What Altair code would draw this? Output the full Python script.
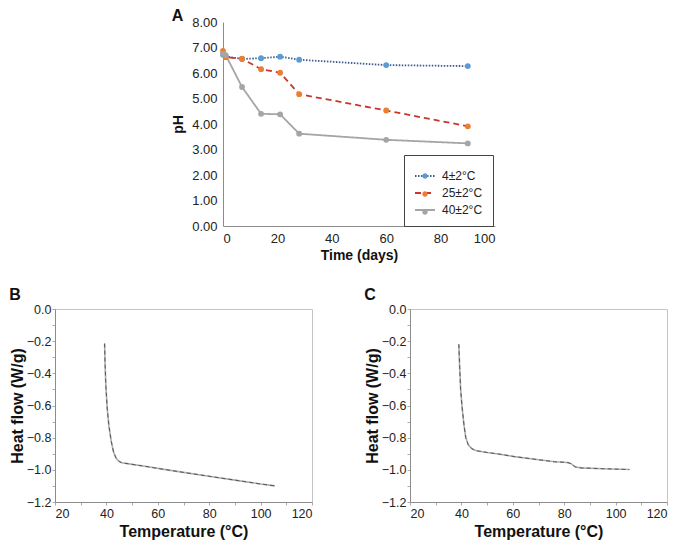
import altair as alt
import pandas as pd

FONT = "Liberation Sans"

# ---------------- Panel A data ----------------
days = [0, 1, 7, 14, 21, 28, 60, 90]
ph_4c = [6.72, 6.65, 6.55, 6.58, 6.64, 6.52, 6.31, 6.27]
ph_25c = [6.87, 6.62, 6.56, 6.15, 6.01, 5.17, 4.53, 3.91]
ph_40c = [6.75, 6.70, 5.45, 4.40, 4.38, 3.62, 3.38, 3.24]
series_labels = ["4±2°C", "25±2°C", "40±2°C"]
line_colors = ["#3d5a8a", "#c8372d", "#a5a5a5"]
point_colors = ["#5b9bd5", "#ed7d31", "#a5a5a5"]
line_dashes = [[1.5, 1.5], [6, 4], [1, 0]]
a_x_ticks = [0, 20, 40, 60, 80, 100]
a_y_ticks = [0, 1, 2, 3, 4, 5, 6, 7, 8]

# ---------------- Panel B / C data ----------------
temp_b = [39.3, 39.5, 39.8, 40.3, 41.0, 41.9, 42.8, 43.8, 45.0, 46.0, 50.0,
          55.0, 61.2, 70.0, 79.2, 90.0, 100.0, 105.6]
hf_b = [-0.215, -0.35, -0.48, -0.616, -0.73, -0.824, -0.89, -0.929, -0.948,
        -0.956, -0.966, -0.978, -0.994, -1.016, -1.038, -1.064, -1.088, -1.100]
temp_c = [39.0, 39.3, 39.7, 40.3, 41.0, 41.7, 42.7, 43.9, 45.0, 46.5, 50.0,
          55.0, 60.7, 70.0, 76.3, 80.0, 81.4, 82.7, 83.5, 84.3, 86.6, 95.0, 105.4]
hf_c = [-0.219, -0.35, -0.50, -0.616, -0.72, -0.80, -0.845, -0.866, -0.877,
        -0.883, -0.892, -0.903, -0.918, -0.937, -0.950, -0.953, -0.955, -0.962,
        -0.972, -0.982, -0.988, -0.993, -0.998]
dsc_x_ticks = [20, 30, 40, 50, 60, 70, 80, 90, 100, 110, 120]
dsc_y_ticks = [-1.2, -1.1, -1.0, -0.9, -0.8, -0.7, -0.6, -0.5, -0.4, -0.3,
               -0.2, -0.1, 0.0]

# ---------------- build panel A ----------------
rows = []
for idx, (lab, vals) in enumerate(zip(series_labels, [ph_4c, ph_25c, ph_40c])):
    for d, v in zip(days, vals):
        rows.append({"day": d, "ph": v, "series": lab, "series_pt": lab, "idx": idx})
df_a = pd.DataFrame(rows)

x_a = alt.X("day:Q", scale=alt.Scale(domain=[0, 100], nice=False),
            axis=alt.Axis(values=a_x_ticks, title="Time (days)", ticks=False,
                          labelPadding=6, titlePadding=3, labelFontSize=13,
                          titleFontSize=14, domainColor="#8c8c8c"))
y_a = alt.Y("ph:Q", scale=alt.Scale(domain=[0, 8], nice=False),
            axis=alt.Axis(values=a_y_ticks, format=".2f", title="pH", ticks=False,
                          labelPadding=6, titlePadding=6, labelFontSize=13,
                          titleFontSize=14, domainColor="#8c8c8c"))

legend_common = dict(title=None, orient="none", legendX=181, legendY=133,
                     symbolSize=400, symbolStrokeWidth=1.8, labelFontSize=12,
                     labelFont=FONT, rowPadding=-2, padding=10, labelOffset=6)

line_legend = alt.Legend(symbolType="M-1,0H1", strokeColor="#444",
                         labelColor="#222", **legend_common)
pt_legend = alt.Legend(
    symbolType="M-0.27,0a0.27,0.27 0 1,0 0.54,0a0.27,0.27 0 1,0 -0.54,0",
    labelExpr="''", symbolStrokeColor="transparent", **legend_common)

sort_a = alt.EncodingSortField("idx", op="min")
sort_b = alt.EncodingSortField("idx", op="max")

lines_a = alt.Chart(df_a).mark_line(strokeWidth=1.8).encode(
    x=x_a, y=y_a,
    stroke=alt.Stroke("series:N", sort=sort_a,
                      scale=alt.Scale(range=line_colors), legend=line_legend),
    strokeDash=alt.StrokeDash("series:N", sort=sort_a,
                              scale=alt.Scale(range=line_dashes), legend=line_legend),
    order="day:Q",
)
points_a = alt.Chart(df_a).mark_point(filled=True, size=34, opacity=1).encode(
    x=x_a, y=y_a,
    fill=alt.Fill("series_pt:N", sort=sort_b,
                  scale=alt.Scale(range=point_colors), legend=pt_legend),
)
panel_a = alt.layer(lines_a, points_a).properties(
    width=272, height=204,
    title=alt.TitleParams("A", anchor="start", frame="bounds", fontSize=16,
                          fontWeight="bold", font=FONT, offset=-8, color="#111"),
    view=alt.ViewBackground(stroke=None),
)

spacer = alt.Chart(pd.DataFrame({"v": [0]})).mark_text(text="").encode(
    x=alt.value(0), y=alt.value(0)
).properties(width=102, height=10, view=alt.ViewBackground(stroke=None))

top_row = alt.hconcat(spacer, panel_a, spacing=14).resolve_scale(
    stroke="independent", strokeDash="independent", fill="independent"
).resolve_legend(stroke="independent", strokeDash="independent", fill="independent")


# ---------------- build panels B and C ----------------
def dsc_panel(temps, hfs, letter, width):
    df = pd.DataFrame({"temp": temps, "hf": hfs})
    x = alt.X("temp:Q", scale=alt.Scale(domain=[20, 120], nice=False),
              axis=alt.Axis(values=dsc_x_ticks, title="Temperature (°C)",
                            labelExpr="datum.value % 20 == 0 ? datum.value : ''",
                            tickSize=3, tickColor="#aaa", labelPadding=2,
                            titlePadding=4, labelFontSize=12.5, titleFontSize=16,
                            domainColor="#8c8c8c"))
    y = alt.Y("hf:Q", scale=alt.Scale(domain=[-1.2, 0], nice=False),
              axis=alt.Axis(values=dsc_y_ticks, title="Heat flow (W/g)",
                            labelExpr="round(datum.value*10) % 2 == 0 ? replace(format(datum.value, '.1f'), '-', '−') : ''",
                            tickSize=3, tickColor="#aaa", labelPadding=1,
                            titlePadding=1, labelFontSize=12.5, titleFontSize=16,
                            domainColor="#8c8c8c"))
    base = alt.Chart(df).encode(x=x, y=y, order="temp:Q")
    light = base.mark_line(color="#b0b0b0", strokeWidth=1.6)
    dark = base.mark_line(color="#555555", strokeWidth=1.0, strokeDash=[4, 3])
    return alt.layer(light, dark).properties(
        width=width, height=193,
        title=alt.TitleParams(letter, anchor="start", frame="bounds", fontSize=16,
                              fontWeight="bold", font=FONT, offset=0, color="#111"),
        view=alt.ViewBackground(stroke="#c4c4c4"),
    )


panel_b = dsc_panel(temp_b, hf_b, "B", 257)
panel_c = dsc_panel(temp_c, hf_c, "C", 257)

bottom = alt.hconcat(panel_b, panel_c, spacing=50)
chart = alt.vconcat(top_row, bottom, spacing=24).resolve_scale(
    stroke="independent", strokeDash="independent", fill="independent"
).resolve_legend(
    stroke="independent", strokeDash="independent", fill="independent"
).properties(
    padding=0,
).configure(font=FONT).configure_axis(
    labelFont=FONT, titleFont=FONT, labelColor="#222", titleColor="#111",
    grid=False, titleFontWeight="bold",
)

chart.save("out.html", embed_options={"renderer": "svg", "actions": False})
